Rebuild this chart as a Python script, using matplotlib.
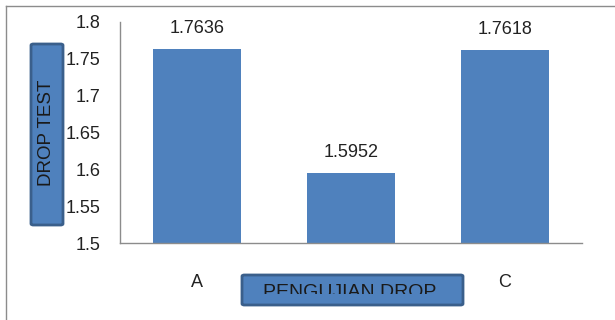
import matplotlib.pyplot as plt
from matplotlib.patches import FancyBboxPatch
from matplotlib.lines import Line2D
from matplotlib.transforms import Bbox

plt.rcParams['font.family'] = ['Liberation Sans', 'DejaVu Sans']

# data
categories = ['A', 'B', 'C']
values = [1.7636, 1.5952, 1.7618]
value_labels = ['1.7636', '1.5952', '1.7618']
y_ticks = [1.5, 1.55, 1.6, 1.65, 1.7, 1.75, 1.8]
y_tick_labels = ['1.5', '1.55', '1.6', '1.65', '1.7', '1.75', '1.8']

W, H = 615, 320
fig = plt.figure(figsize=(W / 100, H / 100), dpi=100)
ax = fig.add_axes([120 / W, 1 - 243 / H, 462 / W, 221 / H])

bar_color = '#4F81BD'
text_color = '#222222'
x = range(len(categories))
ax.bar(x, values, width=0.57, color=bar_color)
ax.set_xlim(-0.5, 2.5)
ax.set_ylim(1.5, 1.8)
ax.set_yticks(y_ticks)
ax.set_yticklabels(y_tick_labels)
ax.set_xticks(list(x))
ax.set_xticklabels(categories)
ax.tick_params(axis='both', length=0, labelsize=13, colors=text_color)
ax.tick_params(axis='x', pad=22)
ax.tick_params(axis='y', pad=14)
for s in ['top', 'right']:
    ax.spines[s].set_visible(False)
for s in ['left', 'bottom']:
    ax.spines[s].set_color('#8c8c8c')
    ax.spines[s].set_linewidth(1)

for i, v in enumerate(values):
    ax.annotate(value_labels[i], (i, v), xytext=(0, 8.5), textcoords='offset points',
                ha='center', va='bottom', fontsize=13, color=text_color)

# outer chart frame (runs off the right and bottom)
fig.add_artist(Line2D([6 / W, 1], [1 - 6 / H, 1 - 6 / H], transform=fig.transFigure,
                      color='#8c8c8c', lw=1))
fig.add_artist(Line2D([6 / W, 6 / W], [0, 1 - 6 / H], transform=fig.transFigure,
                      color='#8c8c8c', lw=1))

# y axis title box
box_kw = dict(boxstyle='round,pad=0,rounding_size=0.004', facecolor=bar_color,
              edgecolor='#3A5F8B', linewidth=2, transform=fig.transFigure, zorder=5)
fig.add_artist(FancyBboxPatch((31 / W, 1 - 225 / H), 32 / W, 181 / H, **box_kw))
fig.text(47 / W, 1 - 133 / H, 'DROP TEST', rotation=90, ha='center', va='center',
         fontsize=13.5, color='#1a1a1a', zorder=6)

# x axis title box (text clipped at the bottom as in the original)
fig.add_artist(FancyBboxPatch((242 / W, 1 - 305 / H), 221 / W, 30 / H, **box_kw))
t = fig.text(350 / W, 1 - 284 / H, 'PENGUJIAN DROP', ha='center', va='top',
             fontsize=14, color='#1a1a1a', zorder=6)
t.set_clip_box(Bbox.from_extents(0, H - 294, W, H))
t.set_clip_on(True)

fig.savefig('out.png', dpi=100)
